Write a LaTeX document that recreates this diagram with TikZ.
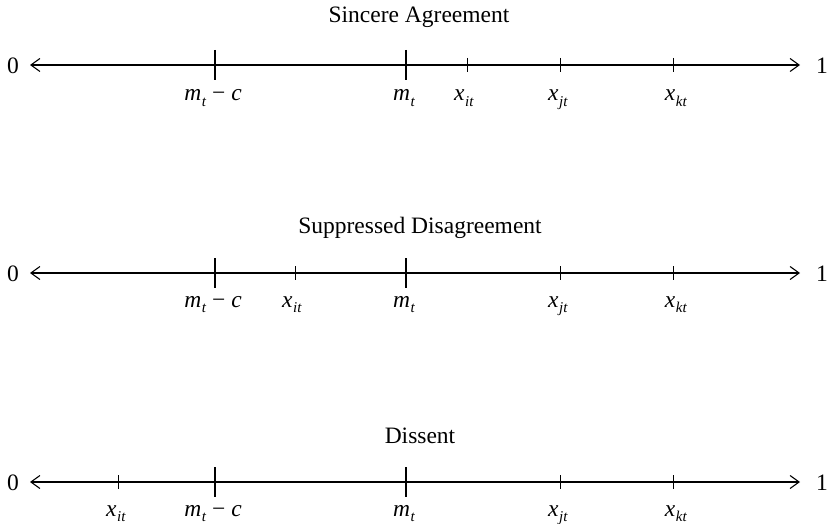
\documentclass[tikz,border=0pt]{standalone}
\usepackage{fontspec}
\setmainfont{Liberation Serif}
\usetikzlibrary{arrows.meta}
\newcommand\ivar[2]{\textit{#1}\kern0.5pt\raisebox{-5.5pt}{\fontsize{15}{15}\selectfont\textit{#2}}}
\begin{document}
\begin{tikzpicture}[x=1pt,y=-1pt,
  every node/.style={font=\fontsize{23.5}{28}\selectfont, inner sep=0pt},
  axis/.style={line width=1.1pt, {Straight Barb[length=9pt,width=13pt,line width=1.1pt]}-{Straight Barb[length=9pt,width=13pt,line width=1.1pt]}},
  major/.style={line width=2.6pt},
  minor/.style={line width=1pt},
  ticklabel/.style={anchor=base},
  titlelabel/.style={anchor=base}]
\useasboundingbox (0,0) rectangle (830,524);

% ---------- Row 1: Sincere Agreement ----------
\node[titlelabel] (t1) at (419,23) {Sincere Agreement};
\node (z1) at (13,66) {0};
\node (o1) at (822,66) {1};
\coordinate (a1) at (30,65);
\coordinate (b1) at (800,65);
\draw[axis] (a1) -- (b1);
\coordinate (p1a) at (215,50); \coordinate (p1b) at (215,80);
\draw[major] (p1a) -- (p1b);
\coordinate (q1a) at (406,50); \coordinate (q1b) at (406,80);
\draw[major] (q1a) -- (q1b);
\coordinate (r1a) at (467,58); \coordinate (r1b) at (467,72);
\draw[minor] (r1a) -- (r1b);
\coordinate (s1a) at (560,58); \coordinate (s1b) at (560,72);
\draw[minor] (s1a) -- (s1b);
\coordinate (u1a) at (673,58); \coordinate (u1b) at (673,72);
\draw[minor] (u1a) -- (u1b);
\node[ticklabel] (lp1) at (213,101) {\ivar{m}{t} − \textit{c}};
\node[ticklabel] (lq1) at (404,101) {\ivar{m}{t}};
\node[ticklabel] (lr1) at (464,101) {\ivar{x}{it}};
\node[ticklabel] (ls1) at (558,101) {\ivar{x}{jt}};
\node[ticklabel] (lu1) at (676,101) {\ivar{x}{kt}};

% ---------- Row 2: Suppressed Disagreement ----------
\node[titlelabel] (t2) at (420,233) {Suppressed Disagreement};
\node (z2) at (13,274) {0};
\node (o2) at (822,274) {1};
\coordinate (a2) at (30,273);
\coordinate (b2) at (800,273);
\draw[axis] (a2) -- (b2);
\coordinate (p2a) at (215,258); \coordinate (p2b) at (215,288);
\draw[major] (p2a) -- (p2b);
\coordinate (q2a) at (406,258); \coordinate (q2b) at (406,288);
\draw[major] (q2a) -- (q2b);
\coordinate (r2a) at (295,266); \coordinate (r2b) at (295,280);
\draw[minor] (r2a) -- (r2b);
\coordinate (s2a) at (560,266); \coordinate (s2b) at (560,280);
\draw[minor] (s2a) -- (s2b);
\coordinate (u2a) at (673,266); \coordinate (u2b) at (673,280);
\draw[minor] (u2a) -- (u2b);
\node[ticklabel] (lp2) at (213,307) {\ivar{m}{t} − \textit{c}};
\node[ticklabel] (lq2) at (404,307) {\ivar{m}{t}};
\node[ticklabel] (lr2) at (292,307) {\ivar{x}{it}};
\node[ticklabel] (ls2) at (558,307) {\ivar{x}{jt}};
\node[ticklabel] (lu2) at (676,307) {\ivar{x}{kt}};

% ---------- Row 3: Dissent ----------
\node[titlelabel] (t3) at (420,443) {Dissent};
\node (z3) at (13,483) {0};
\node (o3) at (822,483) {1};
\coordinate (a3) at (30,482);
\coordinate (b3) at (800,482);
\draw[axis] (a3) -- (b3);
\coordinate (p3a) at (215,467); \coordinate (p3b) at (215,497);
\draw[major] (p3a) -- (p3b);
\coordinate (q3a) at (406,467); \coordinate (q3b) at (406,497);
\draw[major] (q3a) -- (q3b);
\coordinate (r3a) at (118,475); \coordinate (r3b) at (118,489);
\draw[minor] (r3a) -- (r3b);
\coordinate (s3a) at (560,475); \coordinate (s3b) at (560,489);
\draw[minor] (s3a) -- (s3b);
\coordinate (u3a) at (673,475); \coordinate (u3b) at (673,489);
\draw[minor] (u3a) -- (u3b);
\node[ticklabel] (lp3) at (213,516) {\ivar{m}{t} − \textit{c}};
\node[ticklabel] (lq3) at (404,516) {\ivar{m}{t}};
\node[ticklabel] (lr3) at (116,516) {\ivar{x}{it}};
\node[ticklabel] (ls3) at (558,516) {\ivar{x}{jt}};
\node[ticklabel] (lu3) at (676,516) {\ivar{x}{kt}};
\end{tikzpicture}
\end{document}
